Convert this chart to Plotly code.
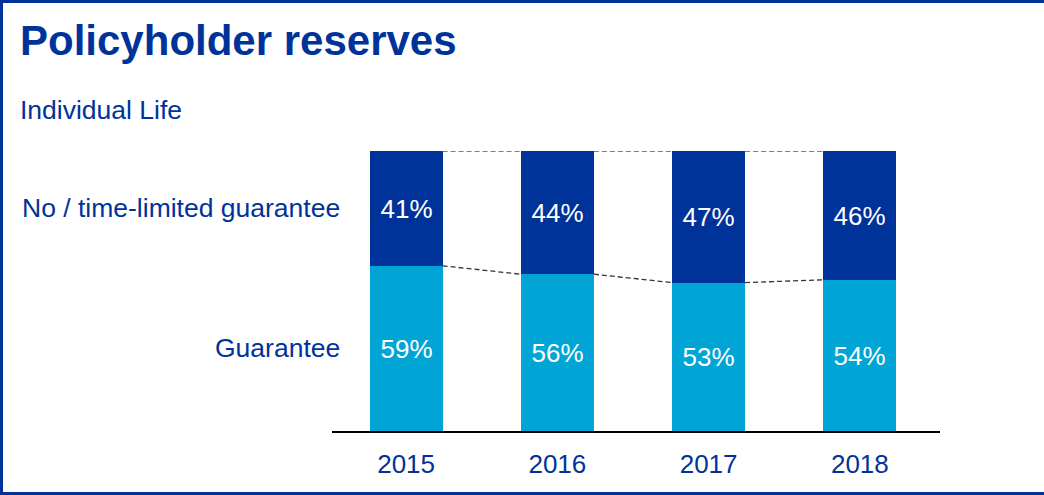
import plotly.graph_objects as go

years = ["2015", "2016", "2017", "2018"]
guarantee = [59, 56, 53, 54]
no_guarantee = [41, 44, 47, 46]
series_names = ["Guarantee", "No / time-limited guarantee"]
title_text = "Policyholder reserves"
subtitle_text = "Individual Life"

DARK = "#003399"
LIGHT = "#00A5D6"
FONT = "Liberation Sans, Arial, sans-serif"

W, H = 1044, 495
L, R, T, B = 332, 104, 151, 64
PW, PH = W - L - R, H - T - B


def xp(px):
    return (px - L) / PW


def yp(py):
    return (H - B - py) / PH


bar_w = 0.483
xs = list(range(len(years)))

fig = go.Figure()
fig.add_trace(go.Bar(
    x=xs, y=guarantee, name=series_names[0], marker=dict(color=LIGHT, line=dict(width=0)),
    width=bar_w, texttemplate="%{y}%", textposition="inside", insidetextanchor="middle",
    textfont=dict(size=26, color="white", family=FONT), textangle=0, constraintext="none",
    hoverinfo="skip"))
fig.add_trace(go.Bar(
    x=xs, y=no_guarantee, name=series_names[1], marker=dict(color=DARK, line=dict(width=0)),
    width=bar_w, texttemplate="%{y}%", textposition="inside", insidetextanchor="middle",
    textfont=dict(size=26, color="white", family=FONT), textangle=0, constraintext="none",
    hoverinfo="skip"))

shapes = []
for i in range(len(years) - 1):
    top_a = guarantee[i] + no_guarantee[i]
    top_b = guarantee[i + 1] + no_guarantee[i + 1]
    shapes.append(dict(type="line", xref="x", yref="y",
                       x0=i + bar_w / 2, x1=i + 1 - bar_w / 2, y0=top_a, y1=top_b,
                       line=dict(color="#808080", width=2, dash="5px,3px")))
    shapes.append(dict(type="line", xref="x", yref="y",
                       x0=i + bar_w / 2, x1=i + 1 - bar_w / 2, y0=guarantee[i], y1=guarantee[i + 1],
                       line=dict(color="#333333", width=1.3, dash="5px,3px")))

# frame lines (top, left, bottom)
shapes.append(dict(type="line", xref="paper", yref="paper", x0=xp(0), x1=xp(W + 5), y0=yp(1.5), y1=yp(1.5),
                   line=dict(color=DARK, width=3)))
shapes.append(dict(type="line", xref="paper", yref="paper", x0=xp(1.5), x1=xp(1.5), y0=yp(0), y1=yp(H),
                   line=dict(color=DARK, width=3)))
shapes.append(dict(type="line", xref="paper", yref="paper", x0=xp(0), x1=xp(W + 5), y0=yp(493.5), y1=yp(493.5),
                   line=dict(color=DARK, width=3)))

annotations = [
    dict(text="<b>" + title_text + "</b>", xref="paper", yref="paper", x=xp(18), y=yp(40),
         xanchor="left", yanchor="middle", showarrow=False,
         font=dict(size=42, color=DARK, family=FONT)),
    dict(text=subtitle_text, xref="paper", yref="paper", x=xp(18), y=yp(110),
         xanchor="left", yanchor="middle", showarrow=False,
         font=dict(size=26.5, color=DARK, family=FONT)),
    dict(text=series_names[1], xref="paper", yref="y", x=0, xshift=10,
         y=guarantee[0] + no_guarantee[0] / 2, xanchor="right", yanchor="middle", showarrow=False,
         font=dict(size=26.5, color=DARK, family=FONT)),
    dict(text=series_names[0], xref="paper", yref="y", x=0, xshift=10,
         y=guarantee[0] / 2, xanchor="right", yanchor="middle", showarrow=False,
         font=dict(size=26.5, color=DARK, family=FONT)),
]

fig.update_layout(
    width=W, height=H, barmode="stack", showlegend=False,
    margin=dict(l=L, r=R, t=T, b=B, pad=0),
    paper_bgcolor="white", plot_bgcolor="white",
    xaxis=dict(range=[-0.49, 3.53], tickmode="array", tickvals=xs, ticktext=years,
               showgrid=False, zeroline=False, showline=True, linecolor="black", linewidth=1.5,
               ticks="", ticklabelstandoff=9,
               tickfont=dict(size=26, color=DARK, family=FONT), fixedrange=True),
    yaxis=dict(range=[0, 100], visible=False, fixedrange=True),
    shapes=shapes, annotations=annotations, bargap=0,
)

fig.write_html("out.html", config={"displayModeBar": False},
               post_script="document.body.style.margin='0';document.body.style.overflow='hidden';")
